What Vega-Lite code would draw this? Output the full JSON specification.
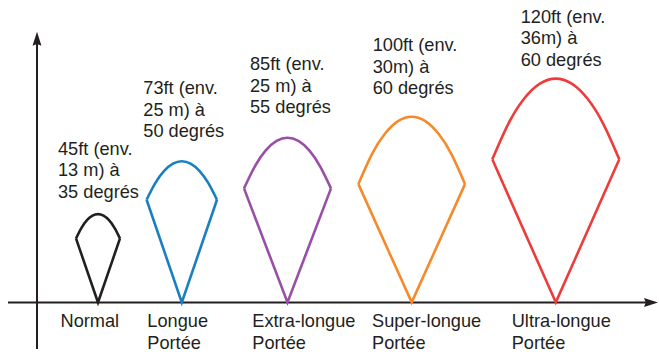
{
  "$schema": "https://vega.github.io/schema/vega-lite/v6.json",
  "width": 659,
  "height": 352,
  "autosize": {"type": "fit", "contains": "padding"},
  "padding": 0,
  "background": "white",
  "config": {"view": {"stroke": null}},
  "datasets": {
    "shapes": [
      {"s": "Normal", "part": "v", "o": 0, "x": 39, "y": 64.5},
      {"s": "Normal", "part": "v", "o": 1, "x": 61, "y": 0},
      {"s": "Normal", "part": "v", "o": 2, "x": 83, "y": 64.5},
      {"s": "Normal", "part": "arc", "o": 0, "x": 39, "y": 64.5},
      {"s": "Normal", "part": "arc", "o": 1, "x": 44.5, "y": 75.2},
      {"s": "Normal", "part": "arc", "o": 2, "x": 50, "y": 82.9},
      {"s": "Normal", "part": "arc", "o": 3, "x": 55.5, "y": 87.5},
      {"s": "Normal", "part": "arc", "o": 4, "x": 61, "y": 89},
      {"s": "Normal", "part": "arc", "o": 5, "x": 66.5, "y": 87.5},
      {"s": "Normal", "part": "arc", "o": 6, "x": 72, "y": 82.9},
      {"s": "Normal", "part": "arc", "o": 7, "x": 77.5, "y": 75.2},
      {"s": "Normal", "part": "arc", "o": 8, "x": 83, "y": 64.5},

      {"s": "Longue", "part": "v", "o": 0, "x": 109.6, "y": 103.5},
      {"s": "Longue", "part": "v", "o": 1, "x": 144.8, "y": 0},
      {"s": "Longue", "part": "v", "o": 2, "x": 180.0, "y": 103.5},
      {"s": "Longue", "part": "arc", "o": 0, "x": 109.6, "y": 103.5},
      {"s": "Longue", "part": "arc", "o": 1, "x": 118.4, "y": 120.5},
      {"s": "Longue", "part": "arc", "o": 2, "x": 127.2, "y": 132.6},
      {"s": "Longue", "part": "arc", "o": 3, "x": 136.0, "y": 139.9},
      {"s": "Longue", "part": "arc", "o": 4, "x": 144.8, "y": 142.3},
      {"s": "Longue", "part": "arc", "o": 5, "x": 153.6, "y": 139.9},
      {"s": "Longue", "part": "arc", "o": 6, "x": 162.4, "y": 132.6},
      {"s": "Longue", "part": "arc", "o": 7, "x": 171.2, "y": 120.5},
      {"s": "Longue", "part": "arc", "o": 8, "x": 180.0, "y": 103.5},

      {"s": "Extra", "part": "v", "o": 0, "x": 207, "y": 115},
      {"s": "Extra", "part": "v", "o": 1, "x": 250.5, "y": 0},
      {"s": "Extra", "part": "v", "o": 2, "x": 294, "y": 115},
      {"s": "Extra", "part": "arc", "o": 0, "x": 207, "y": 115},
      {"s": "Extra", "part": "arc", "o": 1, "x": 217.9, "y": 137.3},
      {"s": "Extra", "part": "arc", "o": 2, "x": 228.75, "y": 153.3},
      {"s": "Extra", "part": "arc", "o": 3, "x": 239.6, "y": 162.8},
      {"s": "Extra", "part": "arc", "o": 4, "x": 250.5, "y": 166},
      {"s": "Extra", "part": "arc", "o": 5, "x": 261.4, "y": 162.8},
      {"s": "Extra", "part": "arc", "o": 6, "x": 272.25, "y": 153.3},
      {"s": "Extra", "part": "arc", "o": 7, "x": 283.1, "y": 137.3},
      {"s": "Extra", "part": "arc", "o": 8, "x": 294, "y": 115},

      {"s": "Super", "part": "v", "o": 0, "x": 321.4, "y": 119.3},
      {"s": "Super", "part": "v", "o": 1, "x": 374.7, "y": 0},
      {"s": "Super", "part": "v", "o": 2, "x": 428.0, "y": 119.3},
      {"s": "Super", "part": "arc", "o": 0, "x": 321.4, "y": 119.3},
      {"s": "Super", "part": "arc", "o": 1, "x": 334.7, "y": 149.1},
      {"s": "Super", "part": "arc", "o": 2, "x": 348.05, "y": 170.3},
      {"s": "Super", "part": "arc", "o": 3, "x": 361.4, "y": 183.1},
      {"s": "Super", "part": "arc", "o": 4, "x": 374.7, "y": 187.3},
      {"s": "Super", "part": "arc", "o": 5, "x": 388.0, "y": 183.1},
      {"s": "Super", "part": "arc", "o": 6, "x": 401.35, "y": 170.3},
      {"s": "Super", "part": "arc", "o": 7, "x": 414.7, "y": 149.1},
      {"s": "Super", "part": "arc", "o": 8, "x": 428.0, "y": 119.3},

      {"s": "Ultra", "part": "v", "o": 0, "x": 455.3, "y": 144.3},
      {"s": "Ultra", "part": "v", "o": 1, "x": 518.8, "y": 0},
      {"s": "Ultra", "part": "v", "o": 2, "x": 582.3, "y": 144.3},
      {"s": "Ultra", "part": "arc", "o": 0, "x": 455.3, "y": 144.3},
      {"s": "Ultra", "part": "arc", "o": 1, "x": 471.2, "y": 179.9},
      {"s": "Ultra", "part": "arc", "o": 2, "x": 487.05, "y": 205.4},
      {"s": "Ultra", "part": "arc", "o": 3, "x": 502.9, "y": 220.6},
      {"s": "Ultra", "part": "arc", "o": 4, "x": 518.8, "y": 225.7},
      {"s": "Ultra", "part": "arc", "o": 5, "x": 534.7, "y": 220.6},
      {"s": "Ultra", "part": "arc", "o": 6, "x": 550.55, "y": 205.4},
      {"s": "Ultra", "part": "arc", "o": 7, "x": 566.4, "y": 179.9},
      {"s": "Ultra", "part": "arc", "o": 8, "x": 582.3, "y": 144.3}
    ],
    "labels": [
      {"x": 21, "y": 149, "t": "45ft (env.\n13 m) à\n35 degrés"},
      {"x": 106.3, "y": 210, "t": "73ft (env.\n25 m) à\n50 degrés"},
      {"x": 213, "y": 234.3, "t": "85ft (env.\n25 m) à\n55 degrés"},
      {"x": 335.7, "y": 253.3, "t": "100ft (env.\n30m) à\n60 degrés"},
      {"x": 483.7, "y": 282.3, "t": "120ft (env.\n36m) à\n60 degrés"},
      {"x": 23.5, "y": -25, "t": "Normal"},
      {"x": 110.3, "y": -25, "t": "Longue\nPortée"},
      {"x": 215.3, "y": -25, "t": "Extra-longue\nPortée"},
      {"x": 335, "y": -25, "t": "Super-longue\nPortée"},
      {"x": 474.7, "y": -25, "t": "Ultra-longue\nPortée"}
    ],
    "axes": [
      {"x": 0, "y": -47, "x2": 0, "y2": 266},
      {"x": -29, "y": 0, "x2": 614, "y2": 0}
    ]
  },
  "layer": [
    {
      "data": {"name": "axes"},
      "mark": {"type": "rule", "color": "#231f20", "strokeWidth": 2},
      "encoding": {
        "x": {"field": "x", "type": "quantitative", "scale": {"domain": [-37, 622], "nice": false, "zero": false}, "axis": null},
        "y": {"field": "y", "type": "quantitative", "scale": {"domain": [-47, 305], "nice": false, "zero": false}, "axis": null},
        "x2": {"field": "x2"},
        "y2": {"field": "y2"}
      }
    },
    {
      "data": {"values": [{"x": 0, "y": 266}]},
      "mark": {"type": "point", "shape": "M0,-1L-0.64,1L0,0.75L0.64,1Z", "filled": true, "size": 196, "color": "#231f20", "opacity": 1},
      "encoding": {
        "x": {"field": "x", "type": "quantitative"},
        "y": {"field": "y", "type": "quantitative"}
      }
    },
    {
      "data": {"values": [{"x": 614, "y": 0}]},
      "mark": {"type": "point", "shape": "M1,0L-1,-0.64L-0.75,0L-1,0.64Z", "filled": true, "size": 196, "color": "#231f20", "opacity": 1},
      "encoding": {
        "x": {"field": "x", "type": "quantitative"},
        "y": {"field": "y", "type": "quantitative"}
      }
    },
    {
      "data": {"name": "shapes"},
      "transform": [{"filter": "datum.part == 'v'"}],
      "mark": {"type": "line", "strokeWidth": 2.6, "strokeJoin": "miter"},
      "encoding": {
        "x": {"field": "x", "type": "quantitative"},
        "y": {"field": "y", "type": "quantitative"},
        "order": {"field": "o", "type": "quantitative"},
        "detail": {"field": "s"},
        "color": {"field": "s", "type": "nominal", "legend": null,
          "scale": {"domain": ["Normal", "Longue", "Extra", "Super", "Ultra"],
                    "range": ["#231f20", "#1a7fc1", "#9b4ea8", "#f68a2b", "#ee3b3b"]}}
      }
    },
    {
      "data": {"name": "shapes"},
      "transform": [{"filter": "datum.part == 'arc'"}],
      "mark": {"type": "line", "strokeWidth": 2.6, "interpolate": "natural"},
      "encoding": {
        "x": {"field": "x", "type": "quantitative"},
        "y": {"field": "y", "type": "quantitative"},
        "order": {"field": "o", "type": "quantitative"},
        "detail": {"field": "s"},
        "color": {"field": "s", "type": "nominal", "legend": null}
      }
    },
    {
      "data": {"name": "labels"},
      "mark": {"type": "text", "align": "left", "baseline": "alphabetic", "font": "Liberation Sans", "fontSize": 18.2, "lineBreak": "\n", "lineHeight": 21.5, "color": "#231f20"},
      "encoding": {
        "x": {"field": "x", "type": "quantitative"},
        "y": {"field": "y", "type": "quantitative"},
        "text": {"field": "t"}
      }
    }
  ]
}
